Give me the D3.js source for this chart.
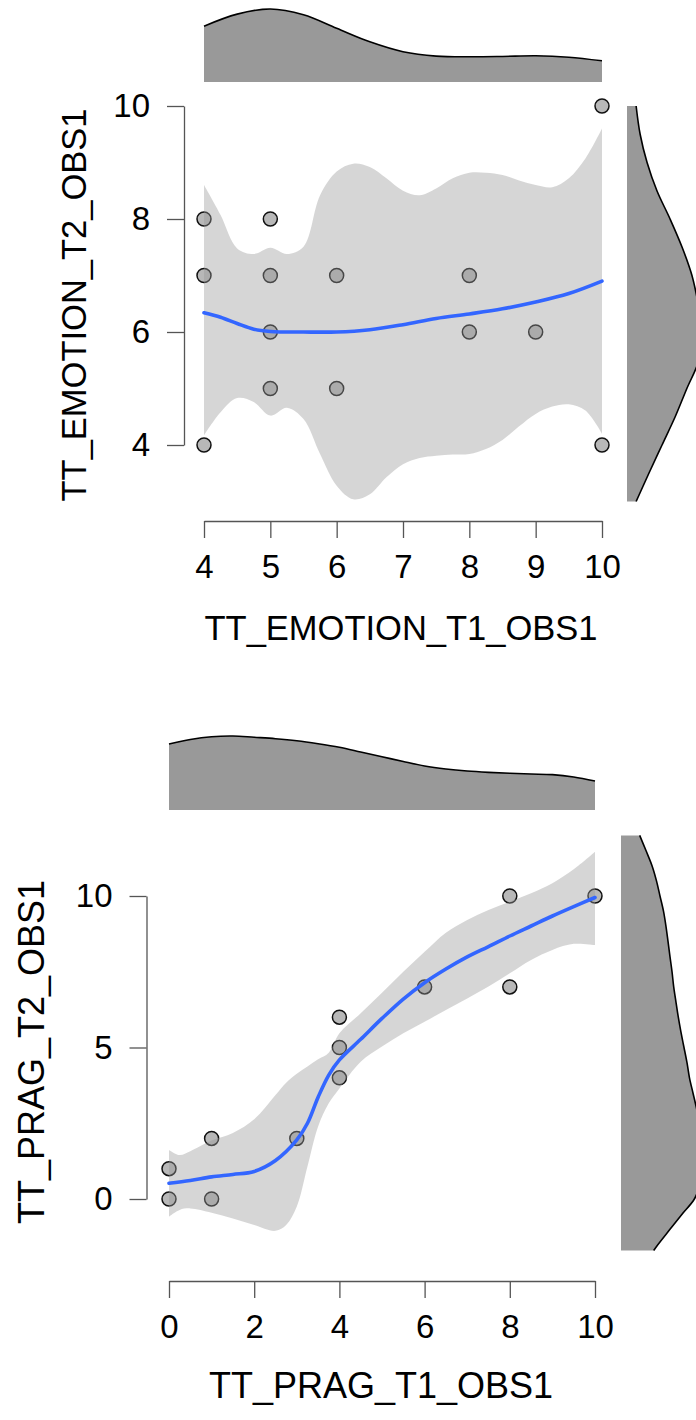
<!DOCTYPE html>
<html>
<head>
<meta charset="utf-8">
<script src="https://cdn.jsdelivr.net/npm/d3@7"></script>
<style>
  body { margin: 0; background: #fff; }
  svg { display: block; font-family: "Liberation Sans", Arial, sans-serif; }
</style>
</head>
<body>
<div id="chart"></div>
<script>
// ---- panel 1: TT_EMOTION ----
const emoT1 = [4, 4, 4, 5, 5, 5, 5, 6, 6, 8, 8, 9, 10, 10];
const emoT2 = [8, 7, 4, 8, 7, 6, 5, 7, 5, 7, 6, 6, 10, 4];

const emoBandX = [4, 4.25, 4.5, 4.75, 5, 5.25, 5.5, 5.75, 6, 6.25, 6.5, 6.75, 7, 7.25, 7.5, 7.75, 8, 8.25, 8.5, 8.75, 9, 9.25, 9.5, 9.75, 10];
const emoUpper = [8.60, 8.07, 7.48, 7.38, 7.49, 7.38, 7.51, 8.42, 8.84, 8.98, 8.92, 8.72, 8.50, 8.42, 8.54, 8.72, 8.82, 8.82, 8.78, 8.68, 8.60, 8.56, 8.72, 9.07, 9.60];
const emoLower = [4.17, 4.58, 4.83, 4.76, 4.52, 4.66, 4.46, 3.84, 3.28, 3.04, 3.13, 3.43, 3.66, 3.77, 3.81, 3.83, 3.84, 3.93, 4.09, 4.33, 4.55, 4.68, 4.72, 4.61, 4.20];

const emoFitX = [4, 4.25, 4.5, 4.75, 5, 5.5, 6, 6.5, 7, 7.5, 8, 8.5, 9, 9.5, 10];
const emoFit = [6.34, 6.26, 6.15, 6.05, 6.01, 6.0, 6.0, 6.04, 6.13, 6.24, 6.32, 6.41, 6.53, 6.68, 6.90];

// marginal densities
const emoTopX = [4, 4.5, 5, 5.5, 6, 6.5, 7, 7.5, 8, 8.5, 9, 9.5, 10];
const emoTopDens = [0.153, 0.186, 0.200, 0.184, 0.147, 0.110, 0.083, 0.071, 0.069, 0.070, 0.072, 0.068, 0.058];
const emoRightY = [3, 3.5, 4, 4.5, 5, 5.5, 6, 6.5, 7, 7.5, 8, 8.5, 9, 9.5, 10];
const emoRightDens = [0.025, 0.060, 0.096, 0.132, 0.164, 0.197, 0.208, 0.195, 0.178, 0.151, 0.118, 0.082, 0.055, 0.036, 0.025];

const emoXTicks = [4, 5, 6, 7, 8, 9, 10];
const emoYTicks = [4, 6, 8, 10];

// ---- panel 2: TT_PRAG ----
const pragT1 = [0, 0, 1, 1, 3, 4, 4, 4, 6, 8, 8, 10];
const pragT2 = [1, 0, 2, 0, 2, 6, 5, 4, 7, 10, 7, 10];

const pragBandX = [0, 0.25, 0.5, 1, 1.5, 2, 2.5, 2.75, 3, 3.25, 3.5, 3.75, 4, 4.5, 5, 5.5, 6, 6.5, 7, 7.5, 8, 8.5, 9, 9.5, 10];
const pragUpper = [1.62, 1.45, 1.58, 1.93, 2.18, 2.63, 3.43, 3.84, 4.13, 4.37, 4.61, 4.83, 5.47, 6.13, 6.81, 7.50, 8.16, 8.79, 9.21, 9.54, 9.81, 10.09, 10.42, 10.88, 11.46];
const pragLower = [-0.58, -0.36, -0.31, -0.45, -0.64, -0.86, -1.05, -0.86, -0.25, 1.07, 2.39, 3.16, 3.65, 4.53, 5.03, 5.47, 5.85, 6.24, 6.62, 7.01, 7.45, 7.89, 8.22, 8.42, 8.38];

const pragFitX = [0, 0.5, 1, 1.5, 2, 2.5, 3, 3.25, 3.5, 3.75, 4, 4.5, 5, 5.5, 6, 6.5, 7, 7.5, 8, 8.5, 9, 9.5, 10];
const pragFit = [0.52, 0.61, 0.73, 0.81, 0.91, 1.27, 1.95, 2.50, 3.36, 4.09, 4.59, 5.27, 5.96, 6.60, 7.14, 7.59, 7.99, 8.33, 8.68, 9.01, 9.34, 9.65, 9.95];

const pragTopX = [0, 0.5, 1, 1.5, 2, 2.5, 3, 3.5, 4, 4.5, 5, 5.5, 6, 6.5, 7, 7.5, 8, 8.5, 9, 9.5, 10];
const pragTopDens = [0.0904, 0.0966, 0.1004, 0.1014, 0.0996, 0.0977, 0.0949, 0.0908, 0.0859, 0.0795, 0.0730, 0.0664, 0.0603, 0.0562, 0.0534, 0.0516, 0.0503, 0.0493, 0.0484, 0.0452, 0.0397];
const pragRightY = [-1.7, -1.5, -1, -0.5, 0, 0.5, 1, 1.5, 2, 2.5, 3, 3.5, 4, 4.5, 5, 5.5, 6, 6.5, 7, 7.5, 8, 8.5, 9, 9.5, 10, 10.5, 11, 11.5, 12];
const pragRightDens = [0.0448, 0.0507, 0.0671, 0.0836, 0.1005, 0.1082, 0.1110, 0.1116, 0.1103, 0.1075, 0.1034, 0.0986, 0.0938, 0.0904, 0.0863, 0.0822, 0.0785, 0.0753, 0.0722, 0.0699, 0.0671, 0.0644, 0.0616, 0.0582, 0.0534, 0.0486, 0.0425, 0.0342, 0.0256];

const pragXTicks = [0, 2, 4, 6, 8, 10];
const pragYTicks = [0, 5, 10];

const svg = d3.select("#chart")
  .append("svg")
  .attr("width", 696)
  .attr("height", 1420);

const curve = d3.curveCatmullRom.alpha(0.5);

function drawPanel(p) {
  const x = d3.scaleLinear().domain(p.xDomain).range(p.xRange);
  const y = d3.scaleLinear().domain(p.yDomain).range(p.yRange);
  const g = svg.append("g");

  // top marginal density
  const dTop = d3.scaleLinear().domain([0, 1]).range([p.topBase, p.topBase - p.densK]);
  const topData = p.topX.map((v, i) => [v, p.topDens[i]]);
  g.append("path")
    .datum(topData)
    .attr("fill", "#999999")
    .attr("d", d3.area().curve(curve).x(d => x(d[0])).y0(p.topBase).y1(d => dTop(d[1])));
  g.append("path")
    .datum(topData)
    .attr("fill", "none")
    .attr("stroke", "#000")
    .attr("stroke-width", 1.6)
    .attr("d", d3.line().curve(curve).x(d => x(d[0])).y(d => dTop(d[1])));

  // right marginal density
  const dRight = d3.scaleLinear().domain([0, 1]).range([p.rightBase, p.rightBase + p.densK]);
  const rightData = p.rightY.map((v, i) => [v, p.rightDens[i]]);
  g.append("path")
    .datum(rightData)
    .attr("fill", "#999999")
    .attr("d", d3.area().curve(curve).y(d => y(d[0])).x0(p.rightBase).x1(d => dRight(d[1])));
  g.append("path")
    .datum(rightData)
    .attr("fill", "none")
    .attr("stroke", "#000")
    .attr("stroke-width", 1.6)
    .attr("d", d3.line().curve(curve).x(d => dRight(d[1])).y(d => y(d[0])));

  // points (drawn under the band, like the original)
  g.append("g")
    .selectAll("circle")
    .data(p.xs.map((v, i) => [v, p.ys[i]]))
    .join("circle")
    .attr("cx", d => x(d[0]))
    .attr("cy", d => y(d[1]))
    .attr("r", 7)
    .attr("fill", "#b8b8b8")
    .attr("stroke", "#111")
    .attr("stroke-width", 1.5);

  // confidence band
  const band = p.bandX.map((v, i) => [v, p.lower[i], p.upper[i]]);
  g.append("path")
    .datum(band)
    .attr("fill", "#999999")
    .attr("fill-opacity", 0.4)
    .attr("d", d3.area().curve(curve).x(d => x(d[0])).y0(d => y(d[1])).y1(d => y(d[2])));

  // smooth fit
  g.append("path")
    .datum(p.fitX.map((v, i) => [v, p.fit[i]]))
    .attr("fill", "none")
    .attr("stroke", "#3366FF")
    .attr("stroke-width", 3.6)
    .attr("stroke-linecap", "round")
    .attr("d", d3.line().curve(curve).x(d => x(d[0])).y(d => y(d[1])));

  // axes
  const xAxis = g.append("g")
    .attr("transform", `translate(0, ${p.xAxisY})`)
    .call(d3.axisBottom(x).tickValues(p.xTicks).tickFormat(d3.format("d"))
      .tickSize(17).tickSizeOuter(0).tickPadding(17));
  const yAxis = g.append("g")
    .attr("transform", `translate(${p.yAxisX}, 0)`)
    .call(d3.axisLeft(y).tickValues(p.yTicks).tickFormat(d3.format("d"))
      .tickSize(17).tickSizeOuter(0).tickPadding(17));
  [xAxis, yAxis].forEach(a => {
    a.selectAll("path, line").attr("stroke", "#555").attr("stroke-width", 1.3);
    a.selectAll("text").attr("fill", "#000").attr("font-size", 33)
      .attr("font-family", "'Liberation Sans', Arial, sans-serif");
  });

  // axis titles
  g.append("text")
    .attr("x", p.xTitlePos[0])
    .attr("y", p.xTitlePos[1])
    .attr("text-anchor", "middle")
    .attr("font-size", p.titleSize)
    .text(p.xTitle);
  g.append("text")
    .attr("transform", `translate(${p.yTitlePos[0]}, ${p.yTitlePos[1]}) rotate(-90)`)
    .attr("text-anchor", "middle")
    .attr("font-size", p.titleSize)
    .text(p.yTitle);
}

drawPanel({
  xs: emoT1, ys: emoT2,
  xDomain: [4, 10], xRange: [204, 602],
  yDomain: [4, 10], yRange: [445, 106],
  bandX: emoBandX, upper: emoUpper, lower: emoLower,
  fitX: emoFitX, fit: emoFit,
  topX: emoTopX, topDens: emoTopDens, topBase: 82,
  rightY: emoRightY, rightDens: emoRightDens, rightBase: 627,
  densK: 365,
  xTicks: emoXTicks, yTicks: emoYTicks,
  xAxisY: 521, yAxisX: 184,
  titleSize: 34.5,
  xTitle: "TT_EMOTION_T1_OBS1", xTitlePos: [401, 640],
  yTitle: "TT_EMOTION_T2_OBS1", yTitlePos: [86, 305]
});

drawPanel({
  xs: pragT1, ys: pragT2,
  xDomain: [0, 10], xRange: [169, 595],
  yDomain: [0, 10], yRange: [1199, 896],
  bandX: pragBandX, upper: pragUpper, lower: pragLower,
  fitX: pragFitX, fit: pragFit,
  topX: pragTopX, topDens: pragTopDens, topBase: 810,
  rightY: pragRightY, rightDens: pragRightDens, rightBase: 621,
  densK: 730,
  xTicks: pragXTicks, yTicks: pragYTicks,
  xAxisY: 1281, yAxisX: 146.5,
  titleSize: 36,
  xTitle: "TT_PRAG_T1_OBS1", xTitlePos: [381, 1398],
  yTitle: "TT_PRAG_T2_OBS1", yTitlePos: [44, 1052]
});
</script>
</body>
</html>
